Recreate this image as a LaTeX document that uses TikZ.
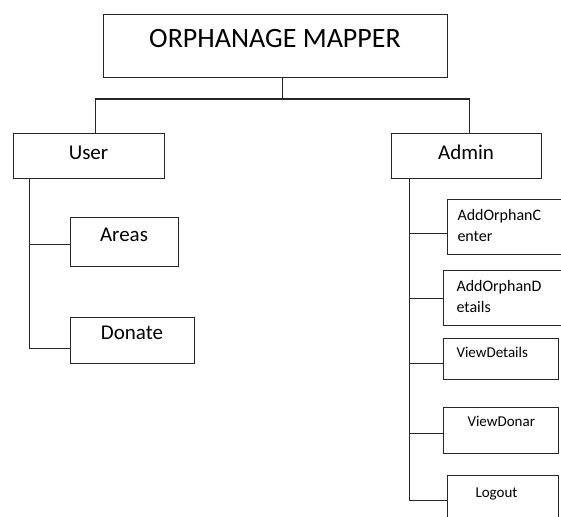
\documentclass[tikz,border=0pt]{standalone}
\usepackage{fontspec}
\setmainfont{Carlito}

\begin{document}
\begin{tikzpicture}[x=1pt, y=-1pt,
        box/.style={draw=black!85, line width=1pt, rectangle, inner ysep=0pt},
        leaf/.style={box, anchor=north west, align=left, font=\fontsize{15}{21}\selectfont},
        link/.style={draw=black!85, line width=1pt}]
        \useasboundingbox (0,0) rectangle (561,516);
        \clip (0,0) rectangle (561,516);

        \node (title) at (275,46.5) [box, minimum width=344pt, text height=33pt, text depth=30pt, font=\fontsize{28}{30}\selectfont] {ORPHANAGE MAPPER};
        \node (user) at (88.5,155.75) [box, minimum width=151pt, text height=26pt, text depth=19.5pt, font=\fontsize{21}{24}\selectfont] {User};
        \node (admin) at (466,155.75) [box, minimum width=150pt, text height=26pt, text depth=19.5pt, font=\fontsize{21}{24}\selectfont] {Admin};

        \node (areas) at (124,241.5) [box, minimum width=108pt, text height=24pt, text depth=25pt, font=\fontsize{21}{24}\selectfont] {Areas};
        \node (donate) at (132,340) [box, minimum width=124pt, text height=22pt, text depth=24pt, font=\fontsize{21}{24}\selectfont] {Donate};

        \node (aoc) at (447,199) [leaf, inner xsep=10pt, text width=96pt, text height=21pt, text depth=34pt, font=\fontsize{16}{21}\selectfont] {AddOrphanC\\enter};
        \node (aod) at (443,270) [leaf, inner xsep=13pt, text width=94pt, text height=20.5pt, text depth=34.5pt, font=\fontsize{16}{21}\selectfont] {AddOrphanD\\etails};
        \node (vdet) at (443,338) [leaf, inner xsep=13pt, text width=89pt, text height=18.5pt, text depth=22.5pt] {ViewDetails};
        \node (vdon) at (443,407) [leaf, inner xsep=24pt, text width=67pt, text height=18.5pt, text depth=27.5pt] {ViewDonar};
        \node (logout) at (447,475) [leaf, inner xsep=28pt, text width=55pt, text height=21.5pt, text depth=28.5pt] {Logout};

        % top level
        \coordinate (hub) at (282,99);
        \draw [link] (title.south -| hub) -- (hub);
        \draw [link] ([xshift=6.5pt]user.north) |- (hub) -| ([xshift=3.5pt]admin.north);

        % user side
        \coordinate (utop) at ([xshift=17pt]user.south west);
        \coordinate (inareas) at ([yshift=-2.5pt]areas.west);
        \draw [link] (utop) |- ([yshift=-8pt]donate.west);
        \draw [link] (inareas -| utop) -- (inareas);

        % admin side
        \coordinate (atop) at ([xshift=19pt]admin.south west);
        \draw [link] (atop) |- (logout.west);
        \foreach \leaf/\dy in {aoc/-6.5, aod/-0.5, vdet/-4.5, vdon/-3} {
            \coordinate (in\leaf) at ([yshift=\dy pt]\leaf.west);
            \draw [link] (in\leaf -| atop) -- (in\leaf);
        }
\end{tikzpicture}
\end{document}
